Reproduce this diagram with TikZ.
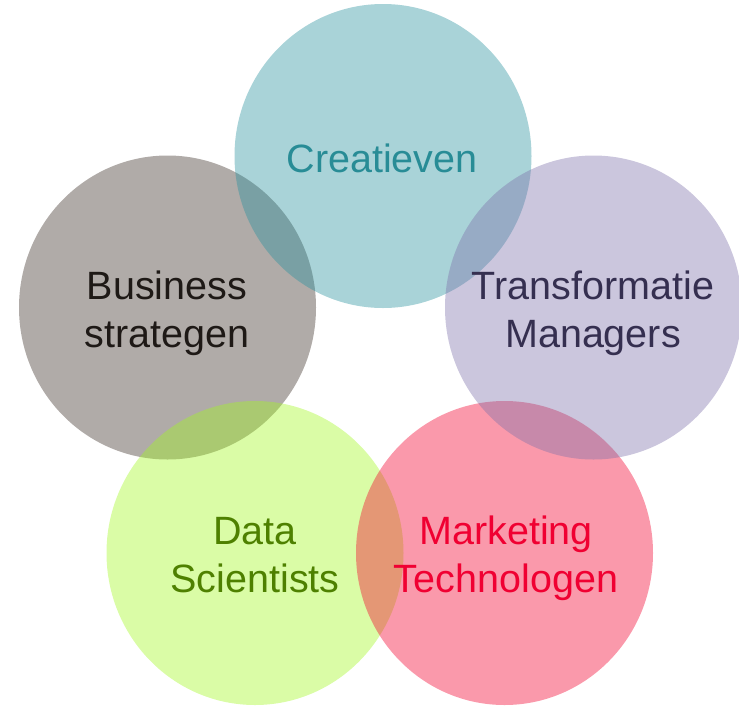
\documentclass[tikz,border=0pt]{standalone}
\usepackage{fontspec}
\setmainfont{Liberation Sans}
\usetikzlibrary{shapes.geometric}
\definecolor{cTeal}{RGB}{40,145,157}
\definecolor{cGray}{RGB}{57,45,37}
\definecolor{cLav}{RGB}{125,112,170}
\definecolor{cGreen}{RGB}{162,247,32}
\definecolor{cPink}{RGB}{242,0,44}
\definecolor{tTeal}{RGB}{40,140,150}
\definecolor{tGray}{RGB}{30,25,22}
\definecolor{tLav}{RGB}{53,47,80}
\definecolor{tGreen}{RGB}{78,128,0}
\definecolor{tPink}{RGB}{240,0,50}
\tikzset{
  bubble/.style={ellipse, draw=none, fill opacity=0.4, inner sep=0pt,
    minimum width=297pt, minimum height=304pt},
  lbl/.style={anchor=base, inner sep=0pt, font=\fontsize{39.5}{48}\selectfont}
}
\begin{document}
\begin{tikzpicture}[x=1pt,y=-1pt]
\useasboundingbox (0,0) rectangle (739,705);
\node[bubble, fill=cGray]  (bs) at (167.5,307.5) {};
\node[bubble, fill=cTeal]  (cr) at (383,156) {};
\node[bubble, fill=cGreen] (ds) at (255,553) {};
\node[bubble, fill=cPink]  (mt) at (504.5,553) {};
\node[bubble, fill=cLav]   (tm) at (593.5,307.5) {};
\node[lbl, text=tTeal]  (crA) at (382,172) {Creatieven};
\node[lbl, text=tGray]  (bsA) at (167,299) {Business};
\node[lbl, text=tGray]  (bsB) at (167,347) {strategen};
\node[lbl, text=tLav]   (tmA) at (593,299) {Transformatie};
\node[lbl, text=tLav]   (tmB) at (593,347) {Managers};
\node[lbl, text=tGreen] (dsA) at (255,544) {Data};
\node[lbl, text=tGreen] (dsB) at (255,592) {Scientists};
\node[lbl, text=tPink]  (mtA) at (506,544) {Marketing};
\node[lbl, text=tPink]  (mtB) at (506,592) {Technologen};
\end{tikzpicture}
\end{document}
